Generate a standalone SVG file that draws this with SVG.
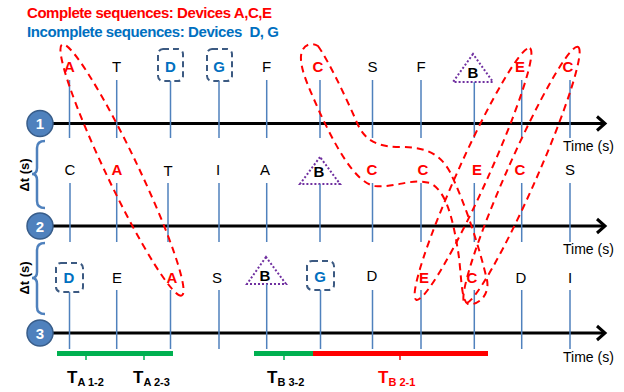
<svg xmlns="http://www.w3.org/2000/svg" width="624" height="392" viewBox="0 0 624 392">
<style>
text{font-family:"Liberation Sans",Arial,sans-serif}
.tl{stroke:#000;stroke-width:3;fill:none}
.tick{stroke:#4F81BD;stroke-width:1.5}
.lbl{font-size:15px;text-anchor:middle;fill:#000}
.red{fill:#FF0000;font-weight:bold}
.blue{fill:#0070C0;font-weight:bold}
.bk{font-weight:bold}
.box{fill:none;stroke:#3C5A82;stroke-width:2;stroke-dasharray:6,4}
.tri{fill:none;stroke:#7030A0;stroke-width:2;stroke-dasharray:2,2}
.loop{fill:none;stroke:#FF0000;stroke-width:2;stroke-dasharray:7,5}
.circ{fill:#4F81BD;stroke:#385D8A;stroke-width:1.5}
.num{fill:#fff;font-weight:bold;font-size:15px;text-anchor:middle}
.time{font-size:14px;fill:#000}
.brace{fill:none;stroke:#4F81BD;stroke-width:2.5}
.dt{font-size:13px;font-weight:bold;text-anchor:middle;fill:#000}
.T{font-size:17px;font-weight:bold}
.sub{font-size:11px;font-weight:bold}
</style>

<g id="legend">
<text x="27" y="18" font-size="15" font-weight="bold" fill="#FF0000" textLength="245">Complete sequences: Devices A,C,E</text>
<text x="27" y="37" font-size="15" font-weight="bold" fill="#0070C0" textLength="252" xml:space="preserve">Incomplete sequences: Devices  D, G</text>
</g>

<g id="timeline1">
<line class="tl" x1="53" y1="123.5" x2="605" y2="123.5"/>
<polyline class="tl" points="597,116.5 605,123.5 597,130.5"/>
<circle class="circ" cx="40" cy="123.5" r="13"/>
<text class="num" x="40" y="129">1</text>
<text class="time" x="563" y="151">Time (s)</text>
</g>
<g id="timeline2">
<line class="tl" x1="53" y1="226" x2="605" y2="226"/>
<polyline class="tl" points="597,219 605,226 597,233"/>
<circle class="circ" cx="40" cy="226" r="13"/>
<text class="num" x="40" y="231.5">2</text>
<text class="time" x="563" y="254">Time (s)</text>
</g>
<g id="timeline3">
<line class="tl" x1="53" y1="333" x2="605" y2="333"/>
<polyline class="tl" points="597,326 605,333 597,340"/>
<circle class="circ" cx="40" cy="333" r="13"/>
<text class="num" x="40" y="338.5">3</text>
<text class="time" x="563" y="362">Time (s)</text>
</g>

<g id="dt1">
<path class="brace" d="M45,141 Q37,141 37,148 L37,168 Q37,174 32,174 Q37,174 37,180 L37,201 Q37,208 45,208"/>
<text class="dt" transform="translate(29,175) rotate(-90)">Δt (s)</text>
</g>
<g id="dt2">
<path class="brace" d="M45,243 Q37,243 37,250 L37,272 Q37,278 32,278 Q37,278 37,284 L37,307 Q37,314 45,314"/>
<text class="dt" transform="translate(29,278) rotate(-90)">Δt (s)</text>
</g>

<!-- Row 1 events -->
<g id="r1-A"><line class="tick" x1="69.5" y1="80" x2="69.5" y2="138"/><text class="lbl red" x="69.5" y="72">A</text></g>
<g id="r1-T"><line class="tick" x1="116.7" y1="80" x2="116.7" y2="138"/><text class="lbl" x="116.7" y="72">T</text></g>
<g id="r1-D"><rect class="box" x="158" y="49" width="25" height="32" rx="5"/><line class="tick" x1="170.5" y1="81" x2="170.5" y2="138"/><text class="lbl blue" x="170.5" y="72">D</text></g>
<g id="r1-G"><rect class="box" x="207" y="49" width="25" height="32" rx="5"/><line class="tick" x1="219" y1="81" x2="219" y2="138"/><text class="lbl blue" x="219" y="72">G</text></g>
<g id="r1-F"><line class="tick" x1="266.7" y1="80" x2="266.7" y2="138"/><text class="lbl" x="266.7" y="72">F</text></g>
<g id="r1-C"><line class="tick" x1="320" y1="80" x2="320" y2="138"/><text class="lbl red" x="318" y="72">C</text></g>
<g id="r1-S"><line class="tick" x1="372.5" y1="80" x2="372.5" y2="138"/><text class="lbl" x="372.5" y="72">S</text></g>
<g id="r1-F2"><line class="tick" x1="421" y1="80" x2="421" y2="138"/><text class="lbl" x="421" y="72">F</text></g>
<g id="r1-B"><polygon class="tri" points="473,54 453,82 493,82"/><line class="tick" x1="474.3" y1="82" x2="474.3" y2="138"/><text class="lbl bk" x="473" y="78">B</text></g>
<g id="r1-E"><line class="tick" x1="521.7" y1="80" x2="521.7" y2="138"/><text class="lbl red" x="520" y="72">E</text></g>
<g id="r1-C2"><line class="tick" x1="570" y1="80" x2="570" y2="138"/><text class="lbl red" x="568" y="72">C</text></g>

<!-- Row 2 events -->
<g id="r2-C"><line class="tick" x1="70" y1="183" x2="70" y2="242"/><text class="lbl" x="70" y="175">C</text></g>
<g id="r2-A"><line class="tick" x1="116.7" y1="183" x2="116.7" y2="242"/><text class="lbl red" x="117" y="175">A</text></g>
<g id="r2-T"><line class="tick" x1="168" y1="183" x2="168" y2="242"/><text class="lbl" x="168" y="176">T</text></g>
<g id="r2-I"><line class="tick" x1="219" y1="183" x2="219" y2="242"/><text class="lbl" x="218" y="175">I</text></g>
<g id="r2-A2"><line class="tick" x1="266.7" y1="183" x2="266.7" y2="242"/><text class="lbl" x="265" y="175">A</text></g>
<g id="r2-B"><polygon class="tri" points="320,157 300,184 340,184"/><line class="tick" x1="320" y1="184" x2="320" y2="242"/><text class="lbl bk" x="319" y="177">B</text></g>
<g id="r2-C2"><line class="tick" x1="372.5" y1="183" x2="372.5" y2="242"/><text class="lbl red" x="372" y="175">C</text></g>
<g id="r2-C3"><line class="tick" x1="421" y1="183" x2="421" y2="242"/><text class="lbl red" x="423" y="175">C</text></g>
<g id="r2-E"><line class="tick" x1="474.3" y1="183" x2="474.3" y2="242"/><text class="lbl red" x="477" y="175">E</text></g>
<g id="r2-C4"><line class="tick" x1="521.7" y1="183" x2="521.7" y2="242"/><text class="lbl red" x="520" y="175">C</text></g>
<g id="r2-S"><line class="tick" x1="570" y1="183" x2="570" y2="242"/><text class="lbl" x="570" y="175">S</text></g>

<!-- Row 3 events -->
<g id="r3-D"><rect class="box" x="56" y="263" width="27" height="29" rx="5"/><line class="tick" x1="69.5" y1="292" x2="69.5" y2="349"/><text class="lbl blue" x="69" y="283">D</text></g>
<g id="r3-E"><line class="tick" x1="116.7" y1="290" x2="116.7" y2="349"/><text class="lbl" x="117" y="283">E</text></g>
<g id="r3-A"><line class="tick" x1="170.5" y1="290" x2="170.5" y2="349"/><text class="lbl red" x="172" y="283">A</text></g>
<g id="r3-S"><line class="tick" x1="219" y1="290" x2="219" y2="349"/><text class="lbl" x="217" y="283">S</text></g>
<g id="r3-B"><polygon class="tri" points="266,257 247,284 286,284"/><line class="tick" x1="266.7" y1="284" x2="266.7" y2="349"/><text class="lbl bk" x="265" y="281">B</text></g>
<g id="r3-G"><rect class="box" x="307" y="261" width="27" height="29" rx="5"/><line class="tick" x1="320.5" y1="290" x2="320.5" y2="349"/><text class="lbl blue" x="320" y="282">G</text></g>
<g id="r3-D2"><line class="tick" x1="372.5" y1="290" x2="372.5" y2="349"/><text class="lbl" x="372" y="281">D</text></g>
<g id="r3-E2"><line class="tick" x1="421" y1="290" x2="421" y2="349"/><text class="lbl red" x="424" y="283">E</text></g>
<g id="r3-C"><line class="tick" x1="474.3" y1="290" x2="474.3" y2="349"/><text class="lbl red" x="472" y="283">C</text></g>
<g id="r3-D3"><line class="tick" x1="521.7" y1="290" x2="521.7" y2="349"/><text class="lbl" x="521" y="283">D</text></g>
<g id="r3-I"><line class="tick" x1="570" y1="290" x2="570" y2="349"/><text class="lbl" x="570" y="283">I</text></g>

<!-- Sequence loops (connectors) -->
<g id="connectors">
<ellipse class="loop" cx="122" cy="170" rx="139" ry="16" transform="rotate(64.5 122 170)"/>
<path class="loop" d="M318,46 C328,60 345,95 358,125 C366,142 380,147 400,147 C420,147 438,150 450,172 C466,205 480,250 487,280 C490,295 478,306 468,304 C460,300 462,270 457,245 C452,215 445,190 430,183 C410,178 395,188 375,186 C355,183 335,145 320,113 C310,90 300,70 301,56 C302,44 312,42 318,46 Z"/>
<ellipse class="loop" cx="473" cy="174" rx="138" ry="15" transform="rotate(-65.7 473 174)"/>
<ellipse class="loop" cx="521.5" cy="175" rx="140" ry="15" transform="rotate(-66.2 521.5 175)"/>
</g>

<!-- Bottom intervals -->
<g id="TA12">
<rect x="57" y="351" width="59" height="5" fill="#00B050"/>
<line x1="86" y1="356" x2="86" y2="360" stroke="#00B050" stroke-width="1.5"/>
<text x="67" y="383"><tspan class="T">T</tspan><tspan class="sub" dy="3">A 1-2</tspan></text>
</g>
<g id="TA23">
<rect x="116" y="351" width="57" height="5" fill="#00B050"/>
<line x1="144" y1="356" x2="144" y2="360" stroke="#00B050" stroke-width="1.5"/>
<text x="133" y="383"><tspan class="T">T</tspan><tspan class="sub" dy="3">A 2-3</tspan></text>
</g>
<g id="TB32">
<rect x="254" y="351" width="59" height="5" fill="#00B050"/>
<line x1="284" y1="356" x2="284" y2="360" stroke="#00B050" stroke-width="1.5"/>
<text x="267" y="383"><tspan class="T">T</tspan><tspan class="sub" dy="3">B 3-2</tspan></text>
</g>
<g id="TB21">
<rect x="313" y="351" width="175" height="5" fill="#FF0000"/>
<line x1="400" y1="356" x2="400" y2="360" stroke="#FF0000" stroke-width="1.5"/>
<text x="378" y="383" fill="#FF0000"><tspan class="T">T</tspan><tspan class="sub" dy="3">B 2-1</tspan></text>
</g>
</svg>
